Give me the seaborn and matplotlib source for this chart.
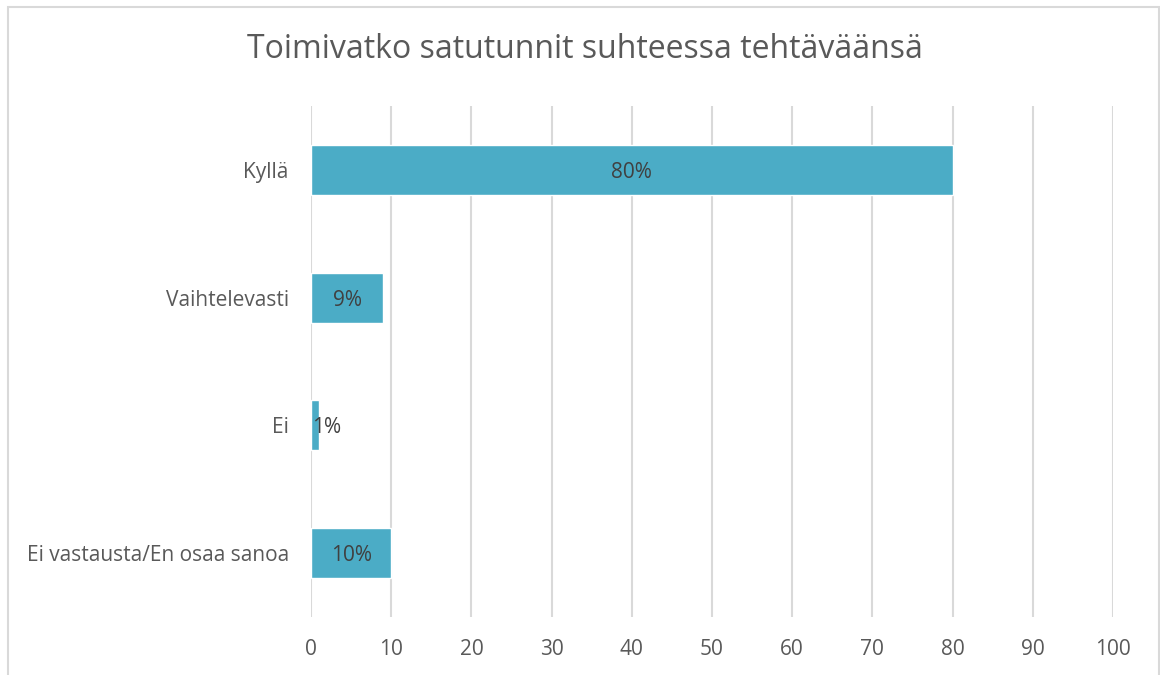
import matplotlib
matplotlib.use('Agg')
import matplotlib.pyplot as plt
import seaborn as sns
import pandas as pd
from matplotlib.patches import Rectangle

# data
categories = ['Kyllä', 'Vaihtelevasti', 'Ei', 'Ei vastausta/En osaa sanoa']
values = [80, 9, 1, 10]
labels = ['80%', '9%', '1%', '10%']
xticks = [0, 10, 20, 30, 40, 50, 60, 70, 80, 90, 100]

df = pd.DataFrame({'category': categories, 'value': values})

sns.set_style('white')
plt.rcParams['font.family'] = ['Open Sans', 'DejaVu Sans']

fig = plt.figure(figsize=(11.6, 6.75), dpi=100)
ax = fig.add_axes([311 / 1160, 1 - 617 / 675, (1113 - 311) / 1160, (617 - 106) / 675])

sns.barplot(data=df, x='value', y='category', orient='h', color='#4BACC6',
            saturation=1, width=0.39, ax=ax, zorder=3)

ax.set_xlim(0, 100)
ax.set_ylim(3.5, -0.5)
ax.set_xticks(xticks)
ax.set_xticklabels([str(t) for t in xticks])
ax.grid(axis='x', color='#d9d9d9', linewidth=1.5, zorder=0)
ax.grid(axis='y', visible=False)
ax.set_axisbelow(True)
for s in ax.spines.values():
    s.set_visible(False)
ax.tick_params(axis='both', length=0, labelsize=15, labelcolor='#595959')
ax.tick_params(axis='x', pad=16)
ax.tick_params(axis='y', pad=16)
ax.set_xlabel('')
ax.set_ylabel('')

# value labels centred in the bars (the tiny one spills over the edge)
for i, (v, lab) in enumerate(zip(values, labels)):
    ax.text(v / 2 if v > 3 else v + 0.9, i + 0.02, lab, ha='center', va='center',
            fontsize=15, color='#404040', zorder=4)

fig.text(585 / 1160, 1 - 50 / 675, 'Toimivatko satutunnit suhteessa tehtäväänsä',
         ha='center', va='center', fontsize=23, color='#595959')

# chart border like the office-style frame
fig.patches.append(Rectangle((8 / 1160, -0.05), (1159 - 8) / 1160, 1.05 - 7 / 675,
                             transform=fig.transFigure, fill=False,
                             edgecolor='#d9d9d9', linewidth=1.5))

fig.savefig('out.png', dpi=100)
